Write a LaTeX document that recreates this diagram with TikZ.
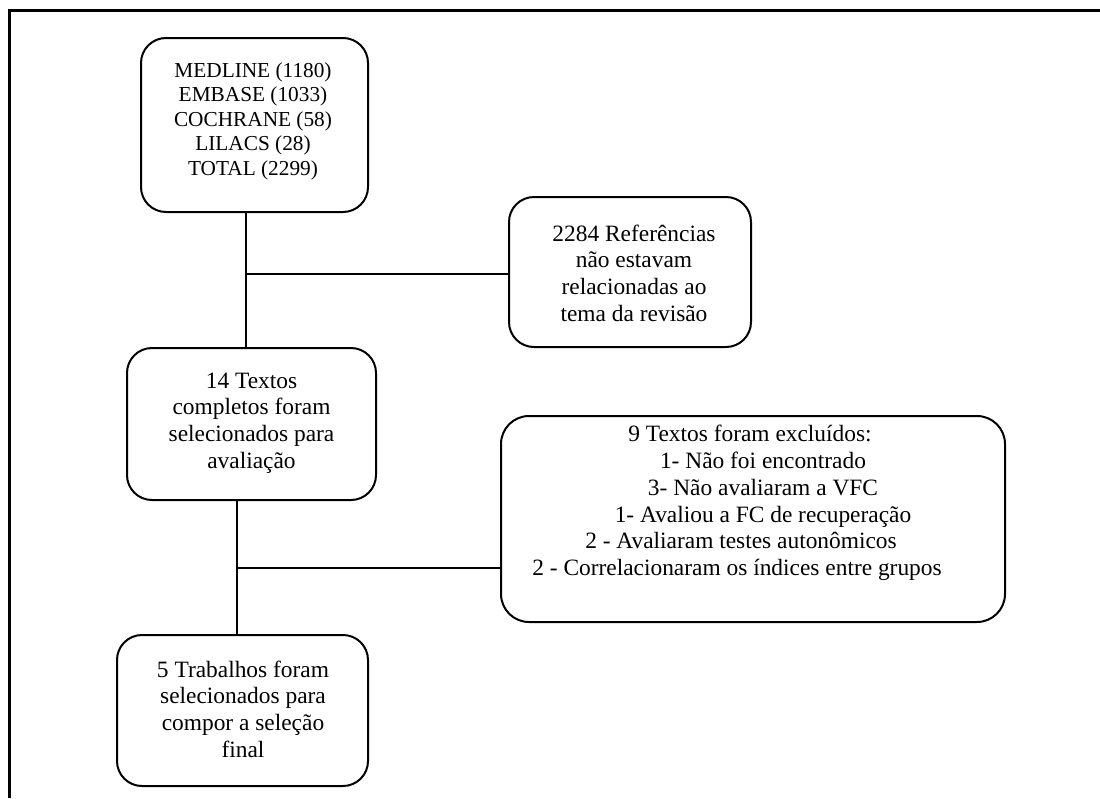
\documentclass[tikz,border=0pt]{standalone}
\usepackage{fontspec}
\setmainfont{Liberation Serif}
\begin{document}
\begin{tikzpicture}[x=1pt,y=-1pt,
  box/.style={draw, line width=2pt, rounded corners=25pt, inner sep=0pt},
  txt/.style={align=center, inner sep=0pt, font=\fontsize{23.4}{26.7}\selectfont},
  smalltxt/.style={align=center, inner sep=0pt, font=\fontsize{21.3}{24.5}\selectfont},
  link/.style={line width=2pt},
  frame/.style={line width=3pt}]
\useasboundingbox (0,0) rectangle (1100,798);
\draw[frame] (9,798) -- (9,10) -- (1100,10);

\node[box, minimum width=227pt, minimum height=174pt] (b1) at (254.5,125) {};
\node[box, minimum width=249pt, minimum height=152pt] (b2) at (251.5,424) {};
\node[box, minimum width=251pt, minimum height=151pt] (b3) at (242.5,710.5) {};
\node[box, minimum width=242pt, minimum height=150pt] (r1) at (630,272) {};
\node[box, minimum width=504pt, minimum height=206pt, rounded corners=28pt] (r2) at (753,519) {};

\node[smalltxt] (t1) at (253,121) {MEDLINE (1180)\\EMBASE (1033)\\COCHRANE (58)\\LILACS (28)\\TOTAL (2299)};
\node[txt] (t2) at (251.5,423) {14 Textos\\completos foram\\selecionados para\\avaliação};
\node[txt] (t3) at (243,709) {5 Trabalhos foram\\selecionados para\\compor a seleção\\final};
\node[txt] (tr1) at (634,273) {2284 Referências\\não estavam\\relacionadas ao\\tema da revisão};
\node[txt] (tr2) at (737,503) {\hspace*{26pt}9 Textos foram excluídos:\\\hspace*{52pt}1- Não foi encontrado\\\hspace*{52pt}3- Não avaliaram a VFC\\\hspace*{52pt}1- Avaliou a FC de recuperação\\\hspace*{8pt}2 - Avaliaram testes autonômicos\\2 - Correlacionaram os índices entre grupos};

\coordinate (j1) at (246,274);
\coordinate (j2) at (237,568);
\draw[link] (b1.south -| j1) -- (b2.north -| j1);
\draw[link] (j1) -- (j1 -| r1.west);
\draw[link] (b2.south -| j2) -- (b3.north -| j2);
\draw[link] (j2) -- (j2 -| r2.west);
\end{tikzpicture}
\end{document}
